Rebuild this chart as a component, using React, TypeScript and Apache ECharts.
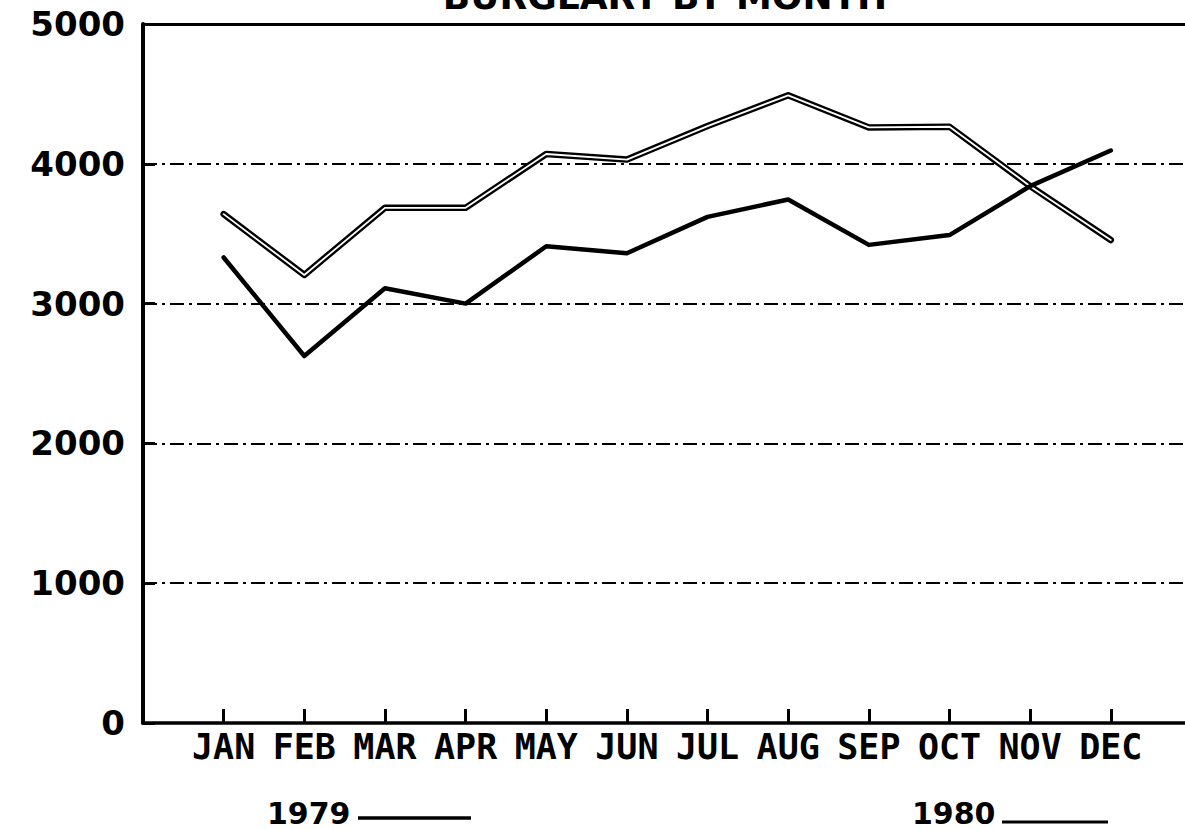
import React, { useEffect, useRef } from "react";
import * as echarts from "echarts";

const MONTHS = ["JAN", "FEB", "MAR", "APR", "MAY", "JUN", "JUL", "AUG", "SEP", "OCT", "NOV", "DEC"];
const Y_TICKS = [0, 1000, 2000, 3000, 4000, 5000];
const SERIES_1979 = [3330, 2625, 3110, 3000, 3410, 3360, 3620, 3745, 3420, 3490, 3840, 4095];
const SERIES_1980 = [3640, 3205, 3685, 3685, 4070, 4030, 4270, 4490, 4260, 4265, 3840, 3455];
const TITLE = "BURGLARY BY MONTH";
const LEGEND = ["1979", "1980"];

const FONT = "DejaVu Sans";
const MONO = "DejaVu Sans Mono";

export default function App() {
  const ref = useRef<HTMLDivElement>(null);
  useEffect(() => {
    document.body.style.margin = "0";
    const chart = echarts.init(ref.current!, null, { renderer: "svg" });
    const monthIdx = MONTHS.map((_, i) => i + 1);
    const pts = (arr: number[]) => arr.map((v, i) => [i + 1, v]);
    const xMax = 12.92;
    chart.setOption({
      animation: false,
      backgroundColor: "#ffffff",
      grid: { left: 143, right: 0, top: 24, bottom: 106 },
      xAxis: [
        {
          type: "value",
          min: 0,
          max: xMax,
          interval: 1,
          axisLine: { show: true, onZero: false, lineStyle: { color: "#000", width: 3.5 } },
          axisTick: {
            show: true,
            inside: true,
            length: 14,
            customValues: monthIdx,
            lineStyle: { color: "#000", width: 3 },
          },
          axisLabel: {
            show: true,
            customValues: monthIdx,
            margin: 6,
            color: "#000",
            fontFamily: MONO,
            fontWeight: "bold",
            fontSize: 35,
            formatter: (v: number) => MONTHS[Math.round(v) - 1] ?? "",
          },
          splitLine: { show: false },
        },
        {
          type: "value",
          position: "top",
          min: 0,
          max: xMax,
          axisLine: { show: true, onZero: false, lineStyle: { color: "#000", width: 3 } },
          axisTick: { show: false },
          axisLabel: { show: false },
          splitLine: { show: false },
        },
      ],
      yAxis: {
        type: "value",
        min: 0,
        max: 5000,
        interval: 1000,
        axisLine: { show: true, lineStyle: { color: "#000", width: 4 } },
        axisTick: { show: true, inside: true, length: 12, lineStyle: { color: "#000", width: 3 } },
        axisLabel: {
          show: true,
          margin: 18,
          color: "#000",
          fontFamily: FONT,
          fontWeight: "bold",
          fontSize: 34,
          customValues: Y_TICKS,
          formatter: (v: number) => String(v),
        },
        splitLine: {
          show: true,
          lineStyle: { color: "#000", width: 1.8, type: [14, 5, 3, 5] },
        },
      },
      series: [
        {
          name: "1980 outline",
          type: "line",
          data: pts(SERIES_1980),
          symbol: "none",
          lineStyle: { color: "#000", width: 6.5, join: "round", cap: "round" },
          z: 3,
        },
        {
          name: "1980",
          type: "line",
          data: pts(SERIES_1980),
          symbol: "none",
          lineStyle: { color: "#fff", width: 1.8, join: "round", cap: "round" },
          z: 4,
        },
        {
          name: "1979",
          type: "line",
          data: pts(SERIES_1979),
          symbol: "none",
          lineStyle: { color: "#000", width: 4.5, join: "round", cap: "round" },
          z: 5,
        },
      ],
      graphic: [
        {
          type: "text",
          x: 665,
          y: -4,
          style: {
            text: TITLE,
            fill: "#000",
            font: `bold 36px "${FONT}"`,
            textAlign: "center",
            textVerticalAlign: "middle",
          },
        },
        {
          type: "text",
          x: 267,
          y: 813,
          style: {
            text: LEGEND[0],
            fill: "#000",
            font: `bold 30px "${FONT}"`,
            textAlign: "left",
            textVerticalAlign: "middle",
          },
        },
        {
          type: "line",
          shape: { x1: 358, y1: 818, x2: 471, y2: 818 },
          style: { stroke: "#000", lineWidth: 3.5 },
        },
        {
          type: "text",
          x: 912,
          y: 813,
          style: {
            text: LEGEND[1],
            fill: "#000",
            font: `bold 30px "${FONT}"`,
            textAlign: "left",
            textVerticalAlign: "middle",
          },
        },
        {
          type: "line",
          shape: { x1: 1002, y1: 822, x2: 1108, y2: 822 },
          style: { stroke: "#000", lineWidth: 3 },
        },
      ],
    });
    return () => chart.dispose();
  }, []);
  return <div ref={ref} style={{ width: 1185, height: 829 }} />;
}
